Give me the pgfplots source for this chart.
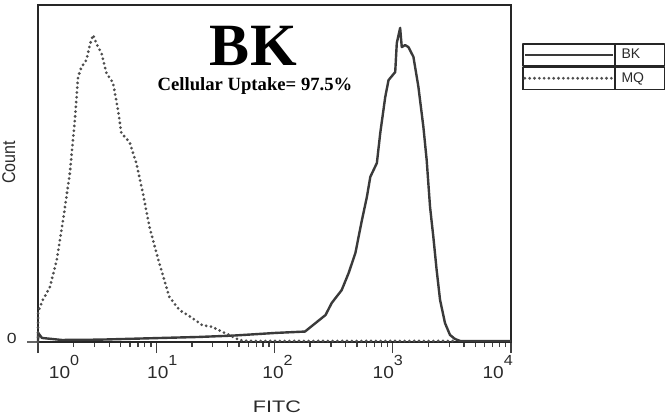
\documentclass[border=0pt]{standalone}
\usepackage{fontspec}
\setmainfont{Liberation Sans}
\newfontfamily\tnr{Liberation Serif}
\usepackage{graphicx}
\usepackage{pgfplots}
\pgfplotsset{compat=1.18}
\definecolor{curve}{HTML}{3A3A3A}
\definecolor{txt}{HTML}{2A2A2A}
\newcommand{\tl}[3]{#1{\scalebox{1.1}[1]{10}\raisebox{9.5pt}{\fontsize{11}{11}\selectfont\scalebox{1.1}[1]{#2}}}#3}
\newcommand{\lt}[1]{\makebox[0pt][l]{\hspace*{-33pt}#1}}
\begin{document}
\begin{tikzpicture}
\path[use as bounding box] (-28.5pt,-56.25pt) rectangle (471pt,256.5pt);
\begin{axis}[
  at={(0,0)}, anchor=south west,
  scale only axis, width=354.75pt, height=252.75pt,
  xmode=log, xmin=1, xmax=10000, ymin=0, ymax=100,
  clip=false,
  axis line style={draw=black!85, line width=0.9pt},
  tick align=outside, xtick pos=bottom, ytick pos=left,
  major tick length=8.25pt, minor tick length=3.75pt,
  every tick/.style={black!75, line width=1pt},
  xtick={1,10,100,1000,10000},
  xticklabels={\tl{\hspace*{39pt}}{0}{}, \tl{\hspace*{9pt}}{1}{}, \tl{\hspace*{4.5pt}}{2}{}, \tl{}{3}{\hspace*{7.5pt}}, \tl{}{4}{\hspace*{20pt}}},
  xticklabel style={font=\fontsize{13}{13}\selectfont, text=txt, anchor=base, yshift=-18.75pt},
  ytick={0}, yticklabels={\scalebox{1.2}[1]{0}},
  y tick style={line width=1pt, black!60},
  yticklabel style={font=\fontsize{11}{11}\selectfont, text=txt, anchor=east, inner sep=0pt, xshift=-7.5pt, yshift=3pt},
  legend style={at={(rel axis cs:1.0232,0.8872)}, anchor=north west, draw=none, fill=none, inner sep=0pt, row sep=0pt, font=\fontsize{10.5}{10.5}\selectfont, text=txt, nodes={inner sep=0pt, anchor=west}, /tikz/every even column/.style={column sep=0pt}},
  legend image code/.code={
    \draw[black!85, solid, line width=1pt] (0pt,-8.25pt) rectangle (106pt,8.25pt);
    \draw[black!85, solid, line width=1pt] (69pt,-8.25pt) -- (69pt,8.25pt);
    \draw[#1] (1.5pt,0pt) -- (67.5pt,0pt);
  },
]
\addplot[curve, line width=1.8pt, line join=round] coordinates {
(1,0) (1.003,2.7) (1.08,1.2) (1.59,0.6) (3.33,0.7) (11.1,1.2) (23.1,1.5) (44.7,1.9) (103,2.7) (181,3.1) (222,5.6) (270,8.0) (305,11.6) (370,15.4) (424,20.5) (483,26.4) (549,36.2) (604,43.0) (646,49.0) (734,53.1) (784,62.0) (864,72.7) (921,77.7) (1049,80.1) (1082,88.7) (1155,93.2) (1192,87.5) (1273,88.1) (1358,87.5) (1496,84.6) (1648,75.7) (1816,63.8) (1936,54.0) (2067,40.1) (2204,31.2) (2350,21.4) (2512,12.5) (2767,5.6) (3048,2.1) (3356,0.9) (3720,0.3) (10000,0.3)
};
\addlegendentry{\lt{BK}}
\addplot[curve!90, line width=2.3pt, line cap=round, dash pattern=on 0pt off 3.6pt] coordinates {
(1,0) (1.002,9) (1.10,12.5) (1.26,16.3) (1.44,24.3) (1.63,36.2) (1.86,50.1) (2.05,65.9) (2.18,78.6) (2.33,81.6) (2.57,83.7) (2.74,88.1) (2.92,91.1) (3.22,87.5) (3.44,85.8) (3.79,79.8) (4.31,76.9) (4.75,68.8) (5.07,62.0) (5.95,59.3) (6.78,53.1) (7.71,44.2) (8.77,34.1) (10.6,23.4) (12.9,13.4) (15.7,9.5) (20.2,7.1) (24.5,5.0) (29.8,4.5) (36.1,3.0) (41.4,2.1) (50.2,0.6) (60,0.3) (3300,0.3)
};
\addlegendentry{\lt{MQ}}
\end{axis}
\node[anchor=base, inner sep=0pt, text depth=0pt, font=\tnr\bfseries\fontsize{45}{45}\selectfont] at (161.5pt,207.5pt) {BK};
\node[anchor=base, inner sep=0pt, text height=9.5pt, font=\tnr\bfseries\fontsize{14}{14}\selectfont] at (162.75pt,188.5pt) {Cellular Uptake= 97.5\%};
\node[anchor=base, text=txt, font=\fontsize{12.5}{12.5}\selectfont] at (179.25pt,-52.5pt) {\scalebox{1.3}[1]{FITC}};
\node[anchor=base, rotate=90, text=txt, font=\fontsize{12}{12}\selectfont] at (-17.25pt,134.6pt) {\scalebox{1}[1.15]{Count}};
\end{tikzpicture}
\end{document}
